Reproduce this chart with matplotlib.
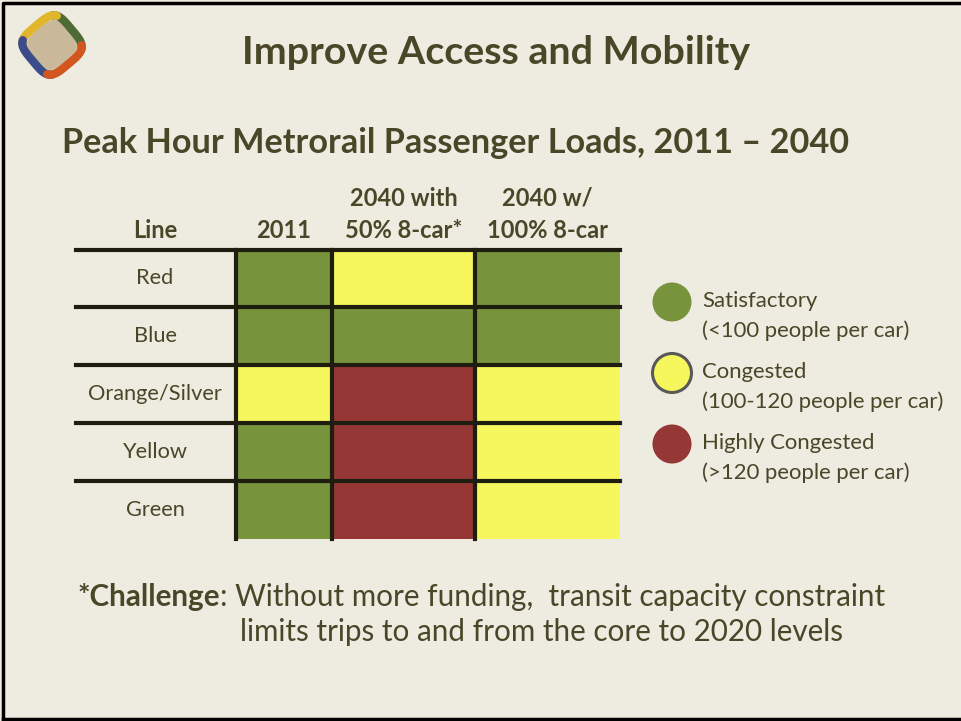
import matplotlib.pyplot as plt
import numpy as np
from matplotlib.colors import ListedColormap
from matplotlib.patches import Circle, Polygon

# data
lines = ["Red", "Blue", "Orange/Silver", "Yellow", "Green"]
columns = [["2011"], ["2040 with", "50% 8-car*"], ["2040 w/", "100% 8-car"]]
# 0 = satisfactory, 1 = congested, 2 = highly congested
status = [
    [0, 1, 0],
    [0, 0, 0],
    [1, 2, 1],
    [0, 2, 1],
    [0, 2, 1],
]
legend_titles = ["Satisfactory", "Congested", "Highly Congested"]
legend_notes = ["(<100 people per car)", "(100-120 people per car)", "(>120 people per car)"]
status_colors = ["#77933C", "#F5F75C", "#953735"]

bg = "#EEEBE0"
ink = "#4A4628"
plt.rcParams['font.family'] = ['Lato', 'DejaVu Sans']

fig = plt.figure(figsize=(9.61, 7.21), dpi=100, facecolor=bg)
ax = fig.add_axes([0, 0, 1, 1])
ax.set_xlim(0, 961)
ax.set_ylim(721, 0)
ax.axis("off")
ax.set_facecolor(bg)

# slide border
ax.plot([3, 3, 965], [720, 3, 3], color="black", lw=2.5, solid_capstyle="projecting")
ax.plot([3, 965], [719, 719], color="black", lw=2.5)

# logo: rounded diamond with four coloured sides
cx, cy, rot = 52, 45, np.deg2rad(40)
def squircle(t, r, n=4):
    x = np.sign(np.cos(t)) * np.abs(np.cos(t)) ** (2 / n) * r
    y = np.sign(np.sin(t)) * np.abs(np.sin(t)) ** (2 / n) * r
    xr = x * np.cos(rot) - y * np.sin(rot)
    yr = x * np.sin(rot) + y * np.cos(rot)
    return cx + xr, cy - yr
tt = np.linspace(0, 2 * np.pi, 200)
fx, fy = squircle(tt, 21)
ax.add_patch(Polygon(np.column_stack([fx, fy]), closed=True, facecolor="#C9B99A",
                     edgecolor="none"))
for k, c in enumerate(["#4F6B35", "#E1B62B", "#3C4C8A", "#D1561F"]):
    seg = np.linspace(-np.pi / 4 - 0.15, np.pi / 4 + 0.15, 40) + k * np.pi / 2
    sx, sy = squircle(seg, 25)
    ax.plot(sx, sy, color=c, lw=6, solid_capstyle="round")

# titles
ax.text(496, 52, "Improve Access and Mobility", ha="center", va="center",
        fontsize=28.4, fontweight="bold", color=ink)
ax.text(62, 143, "Peak Hour Metrorail Passenger Loads, 2011 \u2013 2040", ha="left",
        va="center", fontsize=24.7, fontweight="bold", color=ink)

# table
x_edges = np.array([236, 332, 475, 620])
y_edges = np.array([250, 307, 365, 423, 481, 539])
cmap = ListedColormap(status_colors)
ax.pcolormesh(x_edges, y_edges, np.array(status), cmap=cmap, vmin=-0.5, vmax=2.5)

for y in y_edges[:-1]:
    ax.plot([76, 620], [y, y], color="#1F1C10", lw=3, zorder=3)
for x in x_edges[:-1]:
    ax.plot([x, x], [250, 539], color="#1F1C10", lw=3, zorder=3)

label_x = 155
for i, name in enumerate(lines):
    yc = (y_edges[i] + y_edges[i + 1]) / 2
    ax.text(label_x, yc, name, ha="center", va="center", fontsize=15.7, color=ink)

ax.text(label_x, 230, "Line", ha="center", va="center", fontsize=17,
        fontweight="bold", color=ink)
for j, col in enumerate(columns):
    xc = (x_edges[j] + x_edges[j + 1]) / 2
    for m, part in enumerate(reversed(col)):
        ax.text(xc, 230 - 32 * m, part, ha="center", va="center", fontsize=17,
                fontweight="bold", color=ink)

# legend
leg_y = [302, 373, 444]
for k in range(3):
    ax.add_patch(Circle((672, leg_y[k]), 19.5, facecolor=status_colors[k],
                        edgecolor="#595959" if k == 1 else "none", lw=2.2))
    ax.text(702, leg_y[k] - 1, legend_titles[k], ha="left", va="center", fontsize=15.9, color=ink)
    ax.text(702, leg_y[k] + 29, legend_notes[k], ha="left", va="center", fontsize=15.9, color=ink)

# challenge note
t = ax.text(78, 597, "*Challenge", ha="left", va="center", fontsize=21.3,
            fontweight="bold", color=ink)
ax.annotate(": Without more funding,  transit capacity constraint", xy=(1, 0.5),
            xycoords=t, ha="left", va="center", fontsize=21.3, color=ink)
ax.text(240, 632, "limits trips to and from the core to 2020 levels", ha="left",
        va="center", fontsize=21.3, color=ink)

fig.savefig("out.png", dpi=100, facecolor=bg)
